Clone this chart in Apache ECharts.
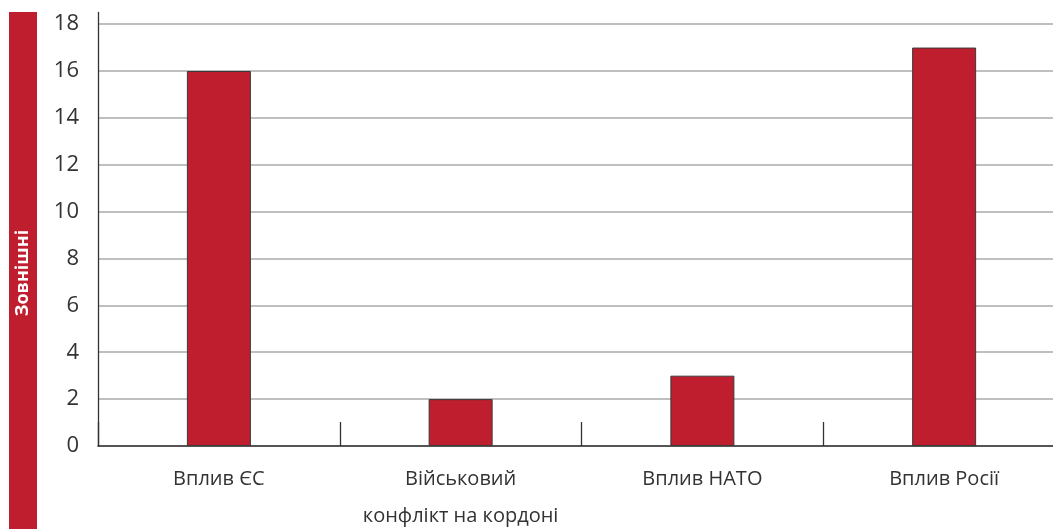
<!DOCTYPE html>
<html><head><meta charset="utf-8">
<script src="https://cdn.jsdelivr.net/npm/echarts@6/dist/echarts.min.js"></script>
<style>html,body{margin:0;padding:0;background:#fff}#c{width:1053px;height:529px}</style>
</head><body><div id="c"></div>
<script>
const categories = ['Вплив ЄС', 'Військовий\nконфлікт на кордоні', 'Вплив НАТО', 'Вплив Росії'];
const values = [16, 2, 3, 17];
const sideTitle = 'Зовнішні';

const chart = echarts.init(document.getElementById('c'));
chart.setOption({
  animation: false,
  textStyle: { fontFamily: '"Open Sans", "Noto Sans", sans-serif' },
  grid: { left: 98, top: 12.4, width: 967, height: 433.6, containLabel: false, outerBoundsMode: 'none' },
  graphic: [
    { type: 'rect', left: 9, top: 12, shape: { width: 28, height: 517 }, style: { fill: '#BE1E2D' } },
    { type: 'text', x: 23, y: 273, rotation: Math.PI / 2,
      style: { text: sideTitle, fill: '#fff', font: 'bold 18px "Open Sans", "Noto Sans", sans-serif',
               align: 'center', verticalAlign: 'middle' } }
  ],
  xAxis: {
    type: 'category', data: categories, boundaryGap: true,
    axisLine: { lineStyle: { color: '#333', width: 1.5 } },
    axisTick: { show: true, inside: true, length: 24, alignWithLabel: false, lineStyle: { color: '#333', width: 1.3 } },
    axisLabel: { color: '#333', fontSize: 20, margin: 15, lineHeight: 37, interval: 0, hideOverlap: false }
  },
  yAxis: {
    type: 'value', min: 0, max: 18.5, interval: 2,
    axisLine: { show: true, lineStyle: { color: '#333', width: 1.3 } },
    axisTick: { show: false },
    axisLabel: { color: '#333', fontSize: 22, margin: 19, showMaxLabel: false,
      formatter: v => (v % 2 === 0 ? String(v) : '') },
    splitLine: { show: true, showMaxLine: false, lineStyle: { color: '#aaa', width: 1.5 } }
  },
  series: [{
    type: 'bar', data: values, barWidth: 64,
    itemStyle: { color: '#BE1E2D', borderColor: '#3a3a3a', borderWidth: 1 }
  }]
});
</script></body></html>
